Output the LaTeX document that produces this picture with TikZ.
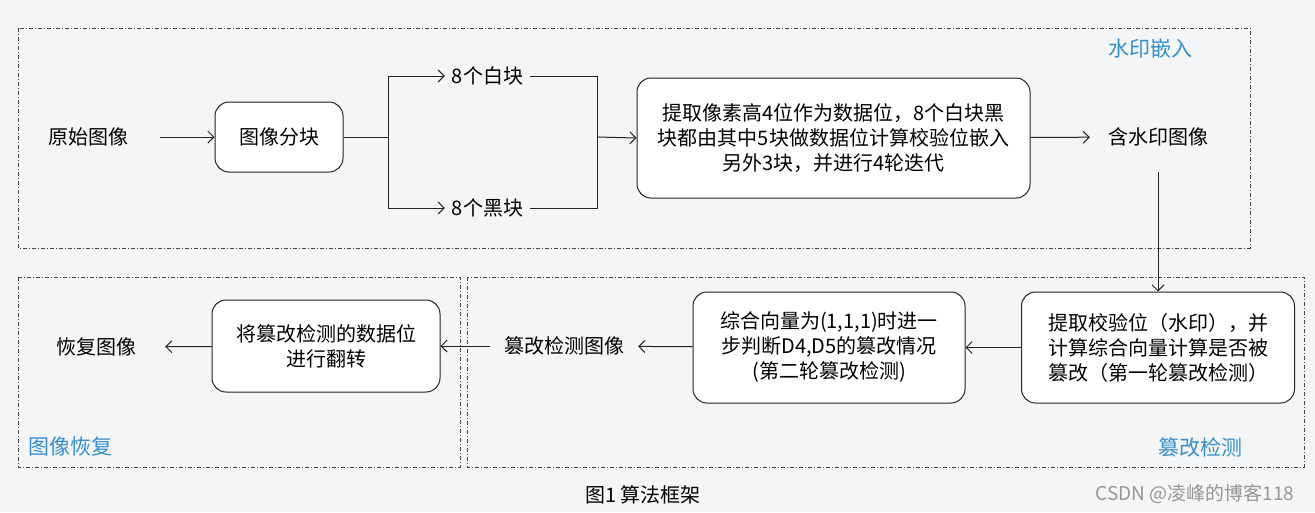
\documentclass[tikz,border=0pt]{standalone}
\usepackage{fontspec}
\setmainfont{Noto Sans CJK SC}
\usetikzlibrary{arrows.meta}
\definecolor{bg}{RGB}{244,245,247}
\definecolor{lab}{RGB}{52,142,204}
\definecolor{ln}{RGB}{35,35,35}
\definecolor{wm}{RGB}{150,150,150}
\begin{document}
\begin{tikzpicture}[x=1pt,y=-1pt,
 txt/.style={font=\fontsize{20}{25}\selectfont, text=black, align=center, inner sep=0pt},
 plain/.style={txt, minimum height=40pt},
 rbox/.style={txt, draw=ln, line width=1pt, fill=white, rounded corners=14pt},
 region/.style={draw=ln!85, line width=0.8pt, dash pattern=on 4pt off 2pt on 1pt off 2pt},
 tag/.style={font=\fontsize{21}{24}\selectfont, text=lab, inner sep=0pt},
 conn/.style={draw=ln, line width=1pt},
 arr/.style={conn, -{Straight Barb[length=6pt,width=12pt]}}]
\fill[bg] (0,0) rectangle (1315,512);
\useasboundingbox (0,0) rectangle (1315,512);
% regions
\draw[region] (18,28) rectangle (1250,248);
\draw[region] (18,277) rectangle (460,467);
\draw[region] (467,277) rectangle (1304,467);
\node[tag] (tagA) at (1150,49) {水印嵌入};
\node[tag] (tagB) at (70,447) {图像恢复};
\node[tag] (tagC) at (1200,447) {篡改检测};
% top row
\node[plain, minimum width=144pt] (src) at (88,137) {原始图像};
\node[rbox, minimum width=128pt, minimum height=70pt] (split) at (279,137) {图像分块};
\node[plain, minimum width=85pt] (white) at (487.5,76) {8个白块};
\node[plain, minimum width=85pt] (black) at (487.5,208) {8个黑块};
\node[rbox, minimum width=393pt, minimum height=120pt] (embed) at (833.5,138) {提取像素高4位作为数据位，8个白块黑\\块都由其中5块做数据位计算校验位嵌入\\另外3块，并进行4轮迭代};
\node[plain, minimum width=136pt, minimum height=70pt] (wmimg) at (1158,137) {含水印图像};
\coordinate (jl) at (388,137);
\coordinate (jr) at (597,137);
% bottom row
\node[rbox, minimum width=273pt, minimum height=111pt] (check1) at (1158,347.5) {提取校验位（水印），并\\计算综合向量计算是否被\\篡改（第一轮篡改检测）};
\node[rbox, minimum width=272pt, minimum height=111pt] (check2) at (829,347.5) {综合向量为(1,1,1)时进一\\步判断D4,D5的篡改情况\\(第二轮篡改检测)};
\node[plain, minimum width=148pt] (tamp) at (564,346) {篡改检测图像};
\node[rbox, minimum width=228pt, minimum height=92pt] (flip) at (326,346) {将篡改检测的数据位\\进行翻转};
\node[plain, minimum width=138pt] (rec) at (96,347) {恢复图像};
% connectors
\draw[arr] (src) -- (split);
\draw[conn] (split) -- (jl);
\draw[arr] (jl) |- (white.west);
\draw[arr] (jl) |- (black.west);
\draw[conn] (white.east) -| (jr);
\draw[conn] (black.east) -| (jr);
\draw[arr] (jr) -- (embed.west);
\draw[arr] (embed) -- (wmimg);
\draw[arr] (wmimg.south) -- (check1.north);
\draw[arr] (check1) -- (check2);
\draw[arr] (check2) -- (tamp);
\draw[arr] (tamp) -- (flip);
\draw[arr] (flip) -- (rec);
% caption
\node[font=\fontsize{20}{22}\selectfont, inner sep=0pt] (cap) at (643,495) {图1 算法框架};
\node[font=\fontsize{19}{20}\selectfont, text=wm, inner sep=0pt] (csdn) at (1195,494) {CSDN @凌峰的博客118};
\end{tikzpicture}
\end{document}
